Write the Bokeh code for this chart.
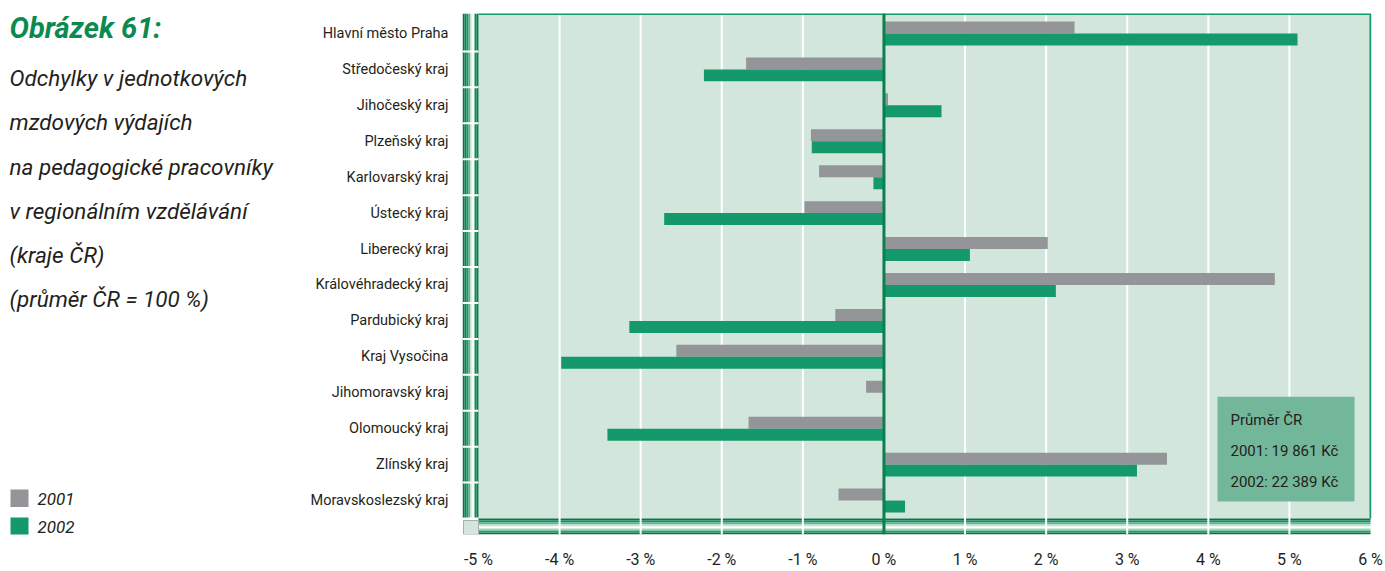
from bokeh.plotting import figure
from bokeh.layouts import row
from bokeh.models import FixedTicker, Range1d
from bokeh.embed import file_html
from bokeh.resources import INLINE
from bokeh.core.properties import value

# ---------------- data ----------------
categories = ["Hlavní město Praha", "Středočeský kraj", "Jihočeský kraj", "Plzeňský kraj",
              "Karlovarský kraj", "Ústecký kraj", "Liberecký kraj", "Královéhradecký kraj",
              "Pardubický kraj", "Kraj Vysočina", "Jihomoravský kraj", "Olomoucký kraj",
              "Zlínský kraj", "Moravskoslezský kraj"]
v2001 = [2.35, -1.70, 0.05, -0.90, -0.80, -0.98, 2.02, 4.82, -0.60, -2.56, -0.22, -1.67, 3.49, -0.56]
v2002 = [5.10, -2.22, 0.71, -0.89, -0.13, -2.71, 1.06, 2.12, -3.14, -3.98, 0.00, -3.41, 3.12, 0.26]
x_ticks = [-5, -4, -3, -2, -1, 0, 1, 2, 3, 4, 5, 6]
x_tick_labels = ["-5 %", "-4 %", "-3 %", "-2 %", "-1 %", "0 %", "1 %", "2 %", "3 %", "4 %", "5 %", "6 %"]
series_names = ["2001", "2002"]
title_text = "Obrázek 61:"
subtitle_lines = ["Odchylky v jednotkových", "mzdových výdajích", "na pedagogické pracovníky",
                  "v regionálním vzdělávání", "(kraje ČR)", "(průměr ČR = 100 %)"]
info_lines = ["Průměr ČR", "2001: 19 861 Kč", "2002: 22 389 Kč"]

# ---------------- style ----------------
FONT = "Roboto"
TXT = "#231f20"
GRAY = "#939598"
GREEN = "#13996b"
DARK = "#0b7f50"
PANEL = "#d2e6dc"
BOX = "#72b799"
TITLE_GREEN = "#0b8a4f"

TOTAL_W, H = 1385, 571
WL = 298                      # width of left text panel
W = TOTAL_W - WL              # width of chart
FL, FR, FT, FB = 462 - WL, 1371 - WL, 13, 535   # frame edges in chart canvas px
WALL = 16
XS = (1370 - 478) / 11.0
n = len(categories)
YS = (FB - FT - WALL - 2) / n
x0 = -5 - WALL / XS
x1 = 6 + 1 / XS
y0 = -WALL / YS
y1 = n + 2 / YS

def px(page_x):
    return -5 + (page_x - 478) / XS

def py(page_y):
    return y1 - (page_y - FT) / YS

# ---------------- left text panel (page-pixel coordinates) ----------------
lp = figure(width=WL, height=H, output_backend="svg", toolbar_location=None, title=None,
            x_range=Range1d(0, WL), y_range=Range1d(FB, FT),
            x_axis_location=None, y_axis_location=None,
            min_border_left=0, min_border_right=0, min_border_top=FT, min_border_bottom=H - FB)
lp.outline_line_color = None
lp.xgrid.visible = False
lp.ygrid.visible = False

lp.text(x=[9], y=[28], text=[title_text], text_font=value(FONT), text_font_size=value("29px"),
        text_font_style="bold italic", text_color=TITLE_GREEN, text_baseline="middle")
lp.text(x=[9] * len(subtitle_lines), y=[78 + 44.2 * i for i in range(len(subtitle_lines))],
        text=subtitle_lines, text_font=value(FONT), text_font_size=value("22.5px"),
        text_font_style="italic", text_color=TXT, text_baseline="middle")
leg_y = [499, 527]
lp.quad(left=[10, 10], right=[28, 28], top=[y - 9 for y in leg_y], bottom=[y + 8.5 for y in leg_y],
        fill_color=[GRAY, GREEN], line_color=None)
lp.text(x=[37, 37], y=leg_y, text=series_names, text_font=value(FONT), text_font_size=value("17px"),
        text_font_style="italic", text_color=TXT, text_baseline="middle")

# ---------------- chart ----------------
p = figure(width=W, height=H, output_backend="svg", toolbar_location=None, title=None,
           x_range=Range1d(x0, x1), y_range=Range1d(y0, y1),
           min_border_left=FL, min_border_right=W - FR, min_border_top=FT, min_border_bottom=H - FB)
p.outline_line_color = None
p.xgrid.visible = False
p.ygrid.visible = False

# back panel
p.quad(left=[-5], right=[6], bottom=[0], top=[y1], fill_color=PANEL, line_color=None)

# left wall (gradient stripes)
wall_cols = ["#07744a", "#0c8454", "#1b9462", "#57b186", "#d9efe3", "#ffffff", "#0f8a58", "#0a7c4e"]
ww = (-5 - x0) / len(wall_cols)
p.quad(left=[x0 + i * ww for i in range(len(wall_cols))],
       right=[x0 + (i + 1) * ww for i in range(len(wall_cols))],
       bottom=[0] * len(wall_cols), top=[y1] * len(wall_cols),
       fill_color=wall_cols, line_color=None)
p.segment(x0=[x0] * n, x1=[-5] * n, y0=list(range(n)), y1=list(range(n)),
          line_color="white", line_width=2)

# floor (gradient stripes)
floor_cols = ["#07744a", "#14905e", "#5fb68c", "#c4e4d3", "#ffffff", "#a3d5bb", "#2a9e6e", "#07744a"]
fh = (0 - y0) / len(floor_cols)
p.quad(left=[-5] * len(floor_cols), right=[6] * len(floor_cols),
       top=[0 - i * fh for i in range(len(floor_cols))],
       bottom=[0 - (i + 1) * fh for i in range(len(floor_cols))],
       fill_color=floor_cols, line_color=None)
p.quad(left=[x0 + 1 / XS], right=[-5], bottom=[y0], top=[-2 / YS],
       fill_color=PANEL, line_color="#a8b0ac", line_width=1)

# grid lines
gx = [t for t in x_ticks if t not in (-5, 0, 6)]
p.segment(x0=gx, x1=gx, y0=[y0] * len(gx), y1=[y1] * len(gx), line_color="white", line_width=2)

# panel border top/right
p.line(x=[-5, 6, 6], y=[y1 - 0.5 / YS, y1 - 0.5 / YS, 0], line_color=GREEN, line_width=2)

# bars
bh = 12 / YS
yc = [n - 0.5 - i for i in range(n)]
p.hbar(y=[c + bh / 2 for c in yc], left=[min(0, v) for v in v2001], right=[max(0, v) for v in v2001],
       height=bh, fill_color=GRAY, line_color=None)
p.hbar(y=[c - bh / 2 for c in yc], left=[min(0, v) for v in v2002], right=[max(0, v) for v in v2002],
       height=bh, fill_color=GREEN, line_color=None)

# zero line
p.segment(x0=[0], x1=[0], y0=[y0], y1=[y1], line_color=DARK, line_width=3)

# axes
p.yaxis.ticker = FixedTicker(ticks=yc)
p.yaxis.major_label_overrides = {c: name for c, name in zip(yc, categories)}
p.yaxis.axis_line_color = None
p.yaxis.major_tick_line_color = None
p.yaxis.minor_tick_line_color = None
p.yaxis.major_label_standoff = 8
p.yaxis.major_label_text_font = FONT
p.yaxis.major_label_text_font_size = "14.5px"
p.yaxis.major_label_text_color = TXT

p.xaxis.ticker = FixedTicker(ticks=x_ticks)
p.xaxis.major_label_overrides = {t: s for t, s in zip(x_ticks, x_tick_labels)}
p.xaxis.axis_line_color = None
p.xaxis.major_tick_line_color = None
p.xaxis.minor_tick_line_color = None
p.xaxis.major_label_standoff = 9
p.xaxis.major_label_text_font = FONT
p.xaxis.major_label_text_font_size = "16px"
p.xaxis.major_label_text_color = TXT

# info box
p.quad(left=[px(1217)], right=[px(1354)], bottom=[py(502)], top=[py(397)], fill_color=BOX, line_color=None)
p.text(x=[px(1230)] * 3, y=[py(420 + 31 * i) for i in range(3)], text=info_lines,
       text_font=value(FONT), text_font_size=value("15px"), text_color=TXT,
       text_baseline="middle", text_align="left")

layout = row(lp, p, spacing=0)
open("out.html", "w").write(file_html(layout, INLINE))
